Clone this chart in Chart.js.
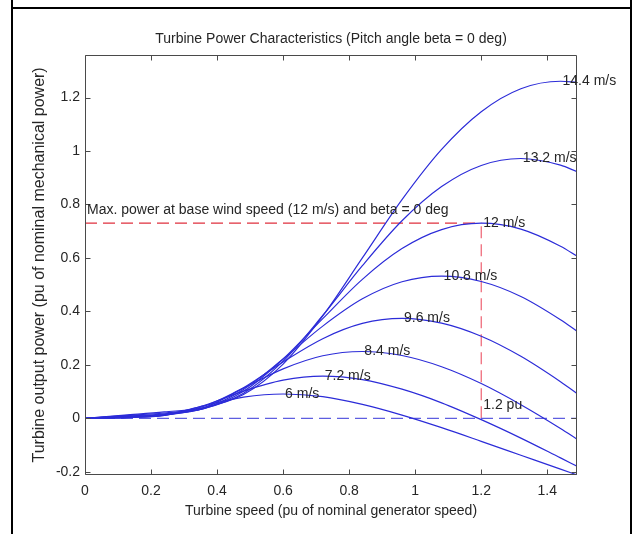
<!DOCTYPE html>
<html>
<head>
<meta charset="utf-8">
<title>Turbine Power Characteristics</title>
<script src="https://cdn.jsdelivr.net/npm/chart.js@4.4.1/dist/chart.umd.min.js"></script>
<style>
  html, body { margin: 0; padding: 0; background: #fff; overflow: hidden; }
  #wrap { position: relative; width: 633px; height: 534px; }
  #plot { position: absolute; left: 0; top: 0; }
  .rule { position: absolute; background: #000; }
</style>
</head>
<body>
<div id="wrap">
  <canvas id="plot" width="633" height="534"></canvas>
  <div class="rule" style="left:11px; top:0; width:2px; height:534px"></div>
  <div class="rule" style="left:630px; top:0; width:2px; height:534px"></div>
  <div class="rule" style="left:11px; top:7px; width:621px; height:2px"></div>
</div>
<script>
// --- data ---
// turbine speed (pu of nominal generator speed) where the curves were read
const speedPu = [0, 0.12, 0.24, 0.36, 0.48, 0.6, 0.72, 0.84, 0.96, 1.08, 1.2, 1.32, 1.44, 1.49];

// one curve per wind speed
const windLabels = ['6 m/s', '7.2 m/s', '8.4 m/s', '9.6 m/s', '10.8 m/s', '12 m/s', '13.2 m/s', '14.4 m/s'];

// turbine output power (pu of nominal mechanical power)
const power6   = [0, 0.002, 0.013, 0.047, 0.079, 0.091, 0.081, 0.052, 0.012, -0.035, -0.086, -0.138, -0.190, -0.212];
const power7_2 = [0, 0.003, 0.011, 0.048, 0.102, 0.143, 0.158, 0.145, 0.109, 0.058, -0.005, -0.074, -0.148, -0.179];
const power8_4 = [0, 0.004, 0.011, 0.045, 0.113, 0.185, 0.234, 0.250, 0.235, 0.193, 0.130, 0.051, -0.038, -0.078];
const power9_6 = [0, 0.005, 0.012, 0.040, 0.114, 0.211, 0.298, 0.355, 0.374, 0.356, 0.307, 0.232, 0.137, 0.093];
const power10_8 = [0, 0.007, 0.014, 0.037, 0.108, 0.222, 0.345, 0.447, 0.511, 0.532, 0.512, 0.456, 0.369, 0.326];
const power12  = [0, 0.008, 0.017, 0.036, 0.101, 0.222, 0.373, 0.520, 0.635, 0.706, 0.730, 0.708, 0.644, 0.607];
const power13_2 = [0, 0.010, 0.020, 0.037, 0.094, 0.214, 0.385, 0.571, 0.739, 0.867, 0.946, 0.972, 0.947, 0.923];
const power14_4 = [0, 0.012, 0.024, 0.040, 0.089, 0.203, 0.383, 0.600, 0.818, 1.006, 1.147, 1.233, 1.261, 1.257];
const powerCurves = [power6, power7_2, power8_4, power9_6, power10_8, power12, power13_2, power14_4];

// max power at base wind speed and the speed where it happens
const basePower = 0.73;
const baseSpeed = 1.2;

// free text written on the plot
const notes = [
  { text: 'Max. power at base wind speed (12 m/s) and beta = 0 deg', x: 0, y: 0.777 },
  { text: '1.2 pu', x: 1.2, y: 0.05 }
];

// --- chart ---
const FONT = '"Liberation Sans", Arial, Helvetica, sans-serif';
const TEXT = '#262626';
const BLUE = '#2c2cd8';

const tickText = v => String(Math.round(v * 10) / 10);

const curveSets = powerCurves.map((vals, i) => ({
  label: windLabels[i],
  data: vals.map((p, j) => ({ x: speedPu[j], y: p })),
  borderColor: BLUE,
  borderWidth: 1.2,
  pointRadius: 0,
  fill: false,
  cubicInterpolationMode: 'monotone',
  peakLabel: windLabels[i]
}));

const refSets = [
  { // zero line
    data: [{ x: 0, y: 0 }, { x: speedPu[speedPu.length - 1], y: 0 }],
    borderColor: '#5e5ee0', borderWidth: 1.3, borderDash: [12, 6], pointRadius: 0
  },
  { // max power level
    data: [{ x: 0, y: basePower }, { x: baseSpeed, y: basePower }],
    borderColor: '#e0303e', borderWidth: 1.2, borderDash: [12, 6], pointRadius: 0
  },
  { // base speed
    data: [{ x: baseSpeed, y: 0 }, { x: baseSpeed, y: basePower }],
    borderColor: '#ee6070', borderWidth: 1.2, borderDash: [12, 6], pointRadius: 0
  }
];

// matlab-like box with inward ticks, plus the text labels
const matlabBox = {
  id: 'matlabBox',
  afterDatasetsDraw(chart) {
    const { ctx, chartArea: a, scales: { x, y } } = chart;
    const L = Math.round(a.left) + 0.5, R = Math.round(a.right) - 0.5;
    const T = Math.round(a.top) + 0.5, B = Math.round(a.bottom) - 0.5;
    ctx.save();
    ctx.strokeStyle = '#4a4a4a';
    ctx.lineWidth = 1;
    ctx.beginPath();
    ctx.rect(L, T, R - L, B - T);
    x.ticks.forEach(t => {
      const px = Math.round(x.getPixelForValue(t.value)) + 0.5;
      ctx.moveTo(px, B); ctx.lineTo(px, B - 5);
      ctx.moveTo(px, T); ctx.lineTo(px, T + 5);
    });
    y.ticks.forEach(t => {
      const py = Math.round(y.getPixelForValue(t.value)) + 0.5;
      ctx.moveTo(L, py); ctx.lineTo(L + 5, py);
      ctx.moveTo(R, py); ctx.lineTo(R - 5, py);
    });
    ctx.stroke();

    ctx.fillStyle = TEXT;
    ctx.font = '14px ' + FONT;
    ctx.textAlign = 'left';
    ctx.textBaseline = 'middle';
    chart.data.datasets.forEach(ds => {
      if (!ds.peakLabel) return;
      const top = ds.data.reduce((m, p) => (p.y > m.y ? p : m));
      ctx.fillText(ds.peakLabel, x.getPixelForValue(top.x) + 2, y.getPixelForValue(top.y));
    });
    notes.forEach(n => {
      ctx.fillText(n.text, x.getPixelForValue(n.x) + 2, y.getPixelForValue(n.y));
    });
    ctx.restore();
  }
};

new Chart(document.getElementById('plot'), {
  type: 'line',
  data: { datasets: curveSets.concat(refSets) },
  options: {
    responsive: false,
    animation: false,
    layout: { padding: { left: 0, right: 56, top: 0, bottom: 0 } },
    plugins: {
      legend: { display: false },
      tooltip: { enabled: false },
      title: {
        display: true,
        text: 'Turbine Power Characteristics (Pitch angle beta = 0 deg)',
        color: TEXT,
        fullSize: false,
        font: { family: FONT, size: 14, weight: 'normal' },
        padding: { top: 31, bottom: 7 }
      }
    },
    scales: {
      x: {
        type: 'linear',
        min: 0,
        max: 1.49,
        grid: { display: false, drawTicks: false },
        border: { display: false },
        ticks: {
          stepSize: 0.2, includeBounds: false, padding: 8, maxRotation: 0,
          color: TEXT, font: { family: FONT, size: 14 }, callback: tickText
        },
        title: {
          display: true,
          text: 'Turbine speed (pu of nominal generator speed)',
          color: TEXT,
          font: { family: FONT, size: 14 },
          padding: { top: 0, bottom: 14 }
        },
        afterFit(s) { s.height = 59; }
      },
      y: {
        type: 'linear',
        min: -0.212,
        max: 1.36,
        grid: { display: false, drawTicks: false },
        border: { display: false },
        ticks: {
          stepSize: 0.2, includeBounds: false, padding: 5,
          color: TEXT, font: { family: FONT, size: 14 }, callback: tickText
        },
        title: {
          display: true,
          text: 'Turbine output power (pu of nominal mechanical power)',
          color: TEXT,
          font: { family: FONT, size: 16 },
          padding: { top: 30, bottom: 0 }
        },
        afterFit(s) { s.width = 85; }
      }
    }
  },
  plugins: [matlabBox]
});
</script>
</body>
</html>
